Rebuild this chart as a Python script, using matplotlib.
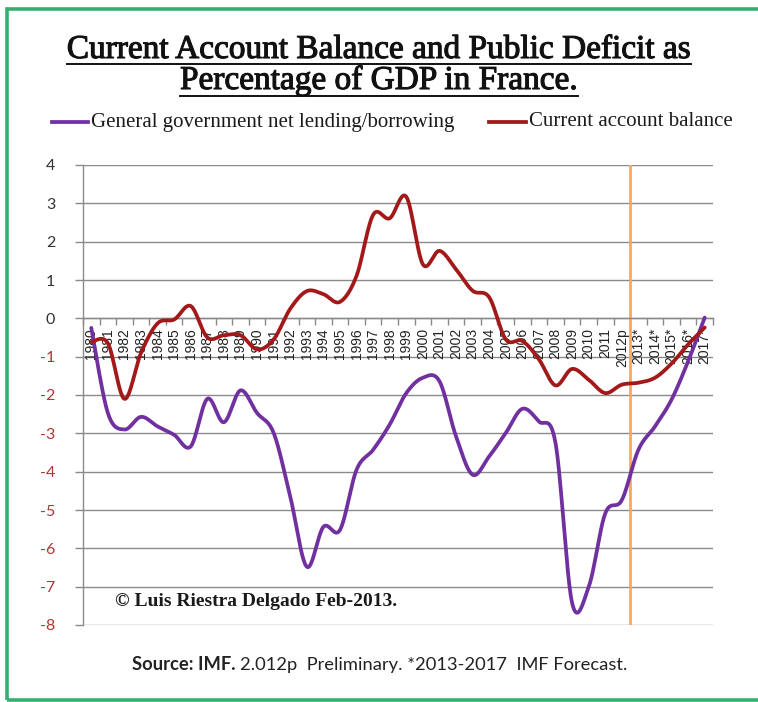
import numpy as np
import matplotlib
matplotlib.use("Agg")
import matplotlib.pyplot as plt
import matplotlib.patheffects as pe
from matplotlib.lines import Line2D
from matplotlib.patches import Rectangle
from matplotlib.ticker import FixedLocator, NullFormatter

# ---- data -----------------------------------------------------------------
categories = [
    "1980", "1981", "1982", "1983", "1984", "1985", "1986", "1987", "1988",
    "1989", "1990", "1991", "1992", "1993", "1994", "1995", "1996", "1997",
    "1998", "1999", "2000", "2001", "2002", "2003", "2004", "2005", "2006",
    "2007", "2008", "2009", "2010", "2011", "2012p", "2013*", "2014*",
    "2015*", "2016*", "2017*",
]

gov_net_lending = [
    -0.25, -2.47, -2.90, -2.57, -2.82, -3.04, -3.34, -2.10, -2.71, -1.88,
    -2.47, -2.99, -4.65, -6.48, -5.44, -5.52, -3.95, -3.43, -2.77, -1.95,
    -1.55, -1.64, -3.08, -4.08, -3.60, -2.99, -2.36, -2.69, -3.25, -7.42,
    -7.01, -5.09, -4.74, -3.43, -2.82, -2.12, -1.12, 0.02,
]

current_account = [
    -0.62, -0.65, -2.10, -0.90, -0.13, -0.03, 0.32, -0.50, -0.44, -0.44,
    -0.81, -0.55, 0.25, 0.71, 0.63, 0.43, 1.11, 2.70, 2.61, 3.17,
    1.41, 1.76, 1.28, 0.72, 0.55, -0.55, -0.59, -1.07, -1.75, -1.32,
    -1.60, -1.95, -1.73, -1.68, -1.55, -1.18, -0.68, -0.24,
]

y_ticks = [4, 3, 2, 1, 0, -1, -2, -3, -4, -5, -6, -7, -8]
first_forecast = "2013*"

# ---- helpers --------------------------------------------------------------
W, H = 758, 702


def fx(px):
    return px / W


def fy(py):
    return 1 - py / H


def smooth(xs, ys, steps=24):
    """Catmull-Rom style Bezier smoothing through every point."""
    xs = np.asarray(xs, float)
    ys = np.asarray(ys, float)
    pts = np.column_stack([xs, ys])
    ext = np.vstack([pts[0], pts, pts[-1]])
    out = []
    t = np.linspace(0, 1, steps, endpoint=False)[:, None]
    for i in range(1, len(ext) - 2):
        p0, p1, p2, p3 = ext[i - 1], ext[i], ext[i + 1], ext[i + 2]
        c1 = p1 + (p2 - p0) / 6.0
        c2 = p2 - (p3 - p1) / 6.0
        seg = ((1 - t) ** 3) * p1 + 3 * ((1 - t) ** 2) * t * c1 \
            + 3 * (1 - t) * t ** 2 * c2 + t ** 3 * p2
        out.append(seg)
    out.append(pts[-1][None, :])
    arr = np.vstack(out)
    return arr[:, 0], arr[:, 1]


PURPLE = "#7030a0"
RED = "#a31818"
ORANGE = "#f5a862"
GRID = "#8a8a8a"
INK = "#111111"

fig = plt.figure(figsize=(W / 100, H / 100), dpi=100)
fig.patch.set_facecolor("white")

# green frame
fig.add_artist(Rectangle((fx(7), fy(700)), fx(800) - fx(7), fy(9) - fy(700),
                         transform=fig.transFigure, fill=False,
                         edgecolor="#33b06e", linewidth=2.6))

# ---- axes -----------------------------------------------------------------
ax = fig.add_axes([fx(83), fy(625), fx(713) - fx(83), fy(165) - fy(625)])
x = np.arange(len(categories))
ax.set_xlim(-0.5, len(categories) - 0.5)
ax.set_ylim(min(y_ticks), max(y_ticks))

for v in y_ticks:
    ax.axhline(v, color=GRID, linewidth=1.0, zorder=1)

ax.axvline(categories.index(first_forecast) - 0.5, color=ORANGE,
           linewidth=2.0, zorder=2)

sx, sy = smooth(x, gov_net_lending)
ax.plot(sx, sy, color=PURPLE, linewidth=2.7, solid_capstyle="round", zorder=3)
sx, sy = smooth(x, current_account)
ax.plot(sx, sy, color=RED, linewidth=2.7, solid_capstyle="round", zorder=4)

for s in ("top", "right"):
    ax.spines[s].set_visible(False)
ax.spines["left"].set_color(GRID)
ax.spines["left"].set_linewidth(1.0)
ax.spines["bottom"].set_position(("data", 0))
ax.spines["bottom"].set_color(GRID)
ax.spines["bottom"].set_linewidth(1.0)

ax.set_yticks(y_ticks)
ax.set_yticklabels([str(v) for v in y_ticks])
ax.tick_params(axis="y", direction="out", length=6, width=1.0, color=GRID,
               pad=14, labelsize=11.5)
for lab, v in zip(ax.get_yticklabels(), y_ticks):
    lab.set_fontfamily("Lato")
    lab.set_color("#b03535" if v < 0 else "#333333")

ax.set_xticks(x)
ax.set_xticklabels(categories, rotation=90, fontsize=10,
                   fontfamily="Liberation Sans", color="#222222")
ax.xaxis.set_minor_locator(FixedLocator(np.arange(-0.5, len(categories), 1.0)))
ax.xaxis.set_minor_formatter(NullFormatter())
ax.tick_params(axis="x", which="major", length=0, pad=7)
ax.tick_params(axis="x", which="minor", direction="out", length=5,
               width=1.0, color=GRID)
ax.set_facecolor("none")

fig.text(fx(115), fy(601), "\u00a9 Luis Riestra Delgado Feb-2013.",
         fontsize=14, fontweight="bold", fontfamily="Liberation Serif",
         color="#1a1a1a", va="center", ha="left")

# ---- title with underline -------------------------------------------------
renderer = fig.canvas.get_renderer()
title_lines = [("Current Account Balance and Public Deficit as", 58, 64),
               ("Percentage of GDP in France.", 89, 96)]
for txt, base, uline in title_lines:
    t = fig.text(0.5, fy(base), txt, ha="center", va="baseline",
                 fontsize=24, fontfamily="Liberation Serif", color=INK,
                 path_effects=[pe.withStroke(linewidth=0.8, foreground=INK)])
    bb = t.get_window_extent(renderer)
    fig.add_artist(Line2D([bb.x0 / W, bb.x1 / W], [fy(uline), fy(uline)],
                          transform=fig.transFigure, color=INK,
                          linewidth=1.4))

# ---- legend ---------------------------------------------------------------
ly = fy(122)
fig.add_artist(Line2D([fx(52), fx(88)], [ly, ly], transform=fig.transFigure,
                      color=PURPLE, linewidth=2.7))
fig.text(fx(91), ly, "General government net lending/borrowing", ha="left",
         va="center", fontsize=15, fontfamily="Liberation Serif",
         color="#1a1a1a")
fig.add_artist(Line2D([fx(489), fx(526)], [ly, ly], transform=fig.transFigure,
                      color=RED, linewidth=2.7))
fig.text(fx(529), ly, "Current account balance", ha="left", va="center",
         fontsize=15, fontfamily="Liberation Serif", color="#1a1a1a")

# ---- source note ----------------------------------------------------------
s1 = fig.text(fx(132), fy(665), "Source: IMF.", ha="left", va="center",
              fontsize=13.2, fontweight="bold", fontfamily="Lato",
              color="#222222")
bb = s1.get_window_extent(renderer)
fig.text((bb.x1 + 5) / W, fy(665),
         "2.012p  Preliminary. *2013-2017  IMF Forecast.", ha="left",
         va="center", fontsize=13.2, fontfamily="Lato", color="#222222")

fig.savefig("out.png", dpi=100, facecolor="white")
